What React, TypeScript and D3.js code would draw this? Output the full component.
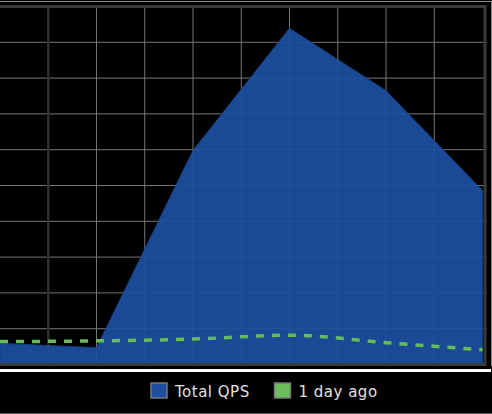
import React, { useEffect, useRef } from 'react';
import * as d3 from 'd3';

// sample index along the x axis (time labels are cropped off in the source)
const slots = [0, 1, 2, 3, 4, 5];
const totalQps = [0.59, 0.47, 5.98, 9.39, 7.65, 4.86];
const dayAgo = [0.64, 0.66, 0.71, 0.82, 0.61, 0.41];
const seriesNames = ['Total QPS', '1 day ago'];
const seriesColors = ['#1c50a0', '#66bb5a'];

const App = () => {
  const svgRef = useRef(null);

  useEffect(() => {
    const width = 492;
    const height = 414;
    const plot = { left: 0, right: 482.5, top: 6.5, bottom: 364.5 };

    const svg = d3.select(svgRef.current)
      .attr('width', width)
      .attr('height', height);

    svg.selectAll('*').remove();

    // background
    svg.append('rect')
      .attr('width', width)
      .attr('height', height)
      .attr('fill', '#000');

    const xScale = d3.scaleLinear()
      .domain([0, 5])
      .range([plot.left, plot.right]);

    const yScale = d3.scaleLinear()
      .domain([0, 10])
      .range([plot.bottom, plot.top]);

    // outer thin frame
    svg.append('line')
      .attr('x1', 0).attr('x2', 492)
      .attr('y1', 1.5).attr('y2', 1.5)
      .attr('stroke', '#8a8a8a');
    svg.append('line')
      .attr('x1', 491.5).attr('x2', 491.5)
      .attr('y1', 1).attr('y2', 366)
      .attr('stroke', '#8a8a8a');

    // grid
    const grid = svg.append('g');
    grid.selectAll('.hgrid')
      .data(d3.range(1, 10))
      .enter()
      .append('line')
      .attr('x1', plot.left)
      .attr('x2', plot.right + 4)
      .attr('y1', d => yScale(d))
      .attr('y2', d => yScale(d))
      .attr('stroke', '#767676')
      .attr('stroke-width', 1);

    grid.selectAll('.vgrid')
      .data(d3.range(0.5, 5, 0.5))
      .enter()
      .append('line')
      .attr('x1', d => xScale(d))
      .attr('x2', d => xScale(d))
      .attr('y1', plot.top)
      .attr('y2', plot.bottom)
      .attr('stroke', d => (d === 0.5 ? '#2e2e2e' : '#767676'))
      .attr('stroke-width', d => (d === 0.5 ? 2.5 : 1));

    // Total QPS area
    const area = d3.area()
      .x((d, i) => xScale(slots[i]))
      .y0(yScale(0))
      .y1(d => yScale(d));

    svg.append('path')
      .datum(totalQps)
      .attr('d', area)
      .attr('fill', seriesColors[0])
      .attr('fill-opacity', 0.93)
      .attr('stroke', '#163f80')
      .attr('stroke-width', 1);

    // 1 day ago dashed line
    const line = d3.line()
      .x((d, i) => xScale(slots[i]))
      .y(d => yScale(d))
      .curve(d3.curveMonotoneX);

    svg.append('path')
      .datum(dayAgo)
      .attr('d', line)
      .attr('fill', 'none')
      .attr('stroke', seriesColors[1])
      .attr('stroke-width', 3.5)
      .attr('stroke-dasharray', '8,8');

    // plot frame
    svg.append('rect')
      .attr('x', -10)
      .attr('y', plot.top)
      .attr('width', plot.right + 2.5 + 10)
      .attr('height', plot.bottom - plot.top)
      .attr('fill', 'none')
      .attr('stroke', '#3a3a3a')
      .attr('stroke-width', 3);

    // separator under chart
    svg.append('rect')
      .attr('x', 0).attr('y', 369)
      .attr('width', 491).attr('height', 3)
      .attr('fill', '#fff');
    svg.append('line')
      .attr('x1', 0).attr('x2', 492)
      .attr('y1', 413.5).attr('y2', 413.5)
      .attr('stroke', '#555');

    // legend
    const legendX = [151, 274.5];
    const legend = svg.append('g');
    seriesNames.forEach((name, i) => {
      legend.append('rect')
        .attr('x', legendX[i])
        .attr('y', 383)
        .attr('width', 16)
        .attr('height', 15)
        .attr('fill', i === 0 ? '#1d4f9e' : '#6cbd5e')
        .attr('stroke', '#777')
        .attr('stroke-width', 1.5);
      legend.append('text')
        .attr('x', legendX[i] + 24)
        .attr('y', 397)
        .attr('fill', '#e0e0e0')
        .attr('font-family', 'DejaVu Sans')
        .attr('font-size', 15)
        .attr('letter-spacing', 0.5)
        .text(name);
    });
  }, []);

  return (
    <svg ref={svgRef} width={492} height={414}
      style={{ position: 'absolute', left: 0, top: 0, display: 'block' }}></svg>
  );
};

export default App;
